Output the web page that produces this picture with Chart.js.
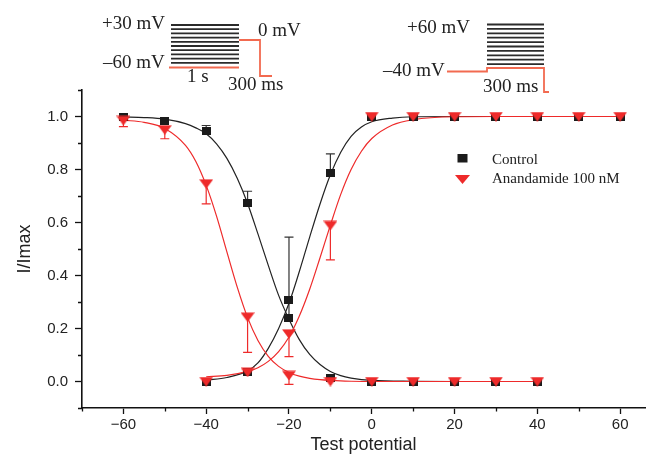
<!DOCTYPE html>
<html>
<head>
<meta charset="utf-8">
<script src="https://cdn.jsdelivr.net/npm/chart.js@4.4.0/dist/chart.umd.min.js"></script>
<style>
  body { margin: 0; background: #fff; }
  #wrap { position: relative; width: 650px; height: 456px; }
  #chart { position: absolute; left: 0; top: 0; }
  #overlay { position: absolute; left: 0; top: 0; }
  #overlay text { font-family: "Liberation Serif", serif; fill: #222; }
</style>
</head>
<body>
<div id="wrap">
  <canvas id="chart" width="650" height="456"></canvas>
  <svg id="overlay" width="650" height="456">
    <!-- left protocol: inactivation -->
    <g stroke="#2b2b2b" stroke-width="1.8">
      <line x1="171" y1="25" x2="239" y2="25"/>
      <line x1="171" y1="29.2" x2="239" y2="29.2"/>
      <line x1="171" y1="33.4" x2="239" y2="33.4"/>
      <line x1="171" y1="37.6" x2="239" y2="37.6"/>
      <line x1="171" y1="41.8" x2="239" y2="41.8"/>
      <line x1="171" y1="46" x2="239" y2="46"/>
      <line x1="171" y1="50.2" x2="239" y2="50.2"/>
      <line x1="171" y1="54.4" x2="239" y2="54.4"/>
      <line x1="171" y1="58.6" x2="239" y2="58.6"/>
      <line x1="171" y1="62.8" x2="239" y2="62.8"/>
    </g>
    <g stroke="#f26a50" stroke-width="1.8" fill="none">
      <polyline points="169,67.5 239,67.5"/>
      <polyline points="239,40 260,40 260,76 272,76"/>
    </g>
    <text x="102" y="29" font-size="19">+30 mV</text>
    <text x="103" y="68" font-size="19">–60 mV</text>
    <text x="258" y="36" font-size="19">0 mV</text>
    <text x="187" y="82" font-size="19">1 s</text>
    <text x="228" y="90" font-size="19">300 ms</text>

    <!-- right protocol: activation -->
    <g stroke="#2b2b2b" stroke-width="1.8">
      <line x1="487" y1="24.5" x2="544" y2="24.5"/>
      <line x1="487" y1="28.9" x2="544" y2="28.9"/>
      <line x1="487" y1="33.3" x2="544" y2="33.3"/>
      <line x1="487" y1="37.7" x2="544" y2="37.7"/>
      <line x1="487" y1="42.1" x2="544" y2="42.1"/>
      <line x1="487" y1="46.5" x2="544" y2="46.5"/>
      <line x1="487" y1="50.9" x2="544" y2="50.9"/>
      <line x1="487" y1="55.3" x2="544" y2="55.3"/>
      <line x1="487" y1="59.7" x2="544" y2="59.7"/>
      <line x1="487" y1="64.1" x2="544" y2="64.1"/>
    </g>
    <g stroke="#f26a50" stroke-width="1.8" fill="none">
      <polyline points="447,71.5 487,71.5 487,68 544,68 544,92 549,92"/>
    </g>
    <text x="407" y="33" font-size="19">+60 mV</text>
    <text x="383" y="76" font-size="19">–40 mV</text>
    <text x="483" y="92" font-size="19">300 ms</text>

    <!-- legend -->
    <rect x="457.5" y="154" width="10" height="8.5" fill="#1b1b1b"/>
    <polygon points="455,175 470,175 462.5,184" fill="#ee2a2a"/>
    <text x="492" y="164" font-size="15">Control</text>
    <text x="492" y="183" font-size="15">Anandamide 100 nM</text>
  </svg>
</div>
<script>
// measured points (test potential, mV)
const actPotentials = [-40, -30, -20, -10, 0, 10, 20, 30, 40, 50, 60];
const inactPotentials = [-60, -50, -40, -30, -20, -10, 0, 10, 20, 30, 40];

const controlAct = [0.0, 0.035, 0.309, 0.786, 1.0, 1.0, 1.0, 1.0, 1.0, 1.0, 1.0];
const controlActErr = [0, 0, 0, 0.073, 0, 0, 0, 0, 0, 0, 0];
const controlInact = [0.997, 0.982, 0.944, 0.673, 0.24, 0.012, 0.0, 0.0, 0.0, 0.0, 0.0];
const controlInactErr = [0, 0, 0.022, 0.045, 0.305, 0, 0, 0, 0, 0, 0];

const aeaAct = [0.0, 0.035, 0.18, 0.589, 1.0, 1.0, 1.0, 1.0, 1.0, 1.0, 1.0];
const aeaActErr = [0, 0, -0.086, -0.13, 0, 0, 0, 0, 0, 0, 0];
const aeaInact = [0.985, 0.95, 0.746, 0.243, 0.023, 0.0, 0.0, 0.0, 0.0, 0.0, 0.0];
const aeaInactErr = [-0.023, -0.034, -0.076, -0.133, -0.034, 0, 0, 0, 0, 0, 0];

// fitted curves
const fitActV = [-40, -35, -30, -27.5, -25, -22.5, -20, -17.5, -15, -12.5, -10, -7.5, -5, -2.5, 0, 5, 10, 20, 30, 40, 50, 60];
const controlActFit = [0.005, 0.015, 0.04, 0.07, 0.125, 0.2, 0.295, 0.415, 0.545, 0.67, 0.78, 0.865, 0.925, 0.96, 0.98, 0.994, 0.999, 1.0, 1.0, 1.0, 1.0, 1.0];
const aeaActFit = [0.018, 0.023, 0.038, 0.052, 0.076, 0.113, 0.168, 0.247, 0.348, 0.467, 0.59, 0.706, 0.8, 0.869, 0.917, 0.968, 0.988, 0.999, 1.0, 1.0, 1.0, 1.0];

const fitInactV = [-60, -55, -50, -45, -42.5, -40, -37.5, -35, -32.5, -30, -27.5, -25, -22.5, -20, -17.5, -15, -12.5, -10, -7.5, -5, 0, 10, 20, 30, 40];
const controlInactFit = [0.998, 0.996, 0.99, 0.973, 0.957, 0.935, 0.897, 0.842, 0.767, 0.672, 0.557, 0.438, 0.325, 0.235, 0.158, 0.102, 0.064, 0.038, 0.022, 0.013, 0.004, 0.001, 0.0, 0.0, 0.0];
const aeaInactFit = [0.986, 0.978, 0.955, 0.891, 0.83, 0.74, 0.624, 0.489, 0.356, 0.241, 0.155, 0.095, 0.057, 0.034, 0.02, 0.012, 0.007, 0.004, 0.002, 0.001, 0.0, 0.0, 0.0, 0.0, 0.0];

const xTicksLabelled = [-60, -40, -20, 0, 20, 40, 60];
const yTicksLabelled = [0.0, 0.2, 0.4, 0.6, 0.8, 1.0];

const BLACK = '#1b1b1b';
const RED = '#ee2a2a';

function pts(xs, ys) {
  return xs.map((x, i) => ({ x: x, y: ys[i] }));
}

function marker(w, h, draw) {
  const c = document.createElement('canvas');
  c.width = w; c.height = h;
  draw(c.getContext('2d'));
  return c;
}
const squareMark = marker(9, 8, g => { g.fillStyle = BLACK; g.fillRect(0, 0, 9, 8); });
const triMark = marker(14, 10, g => {
  g.fillStyle = RED;
  g.beginPath(); g.moveTo(0, 0.5); g.lineTo(14, 0.5); g.lineTo(7, 10); g.closePath(); g.fill();
});

// error bars: vertical line from the point to point + err, with a cap
const errorBars = {
  id: 'errorBars',
  beforeDatasetsDraw(chart) {
    const ctx = chart.ctx, sx = chart.scales.x, sy = chart.scales.y;
    chart.data.datasets.forEach(ds => {
      if (!ds.errors) return;
      ctx.save();
      ctx.strokeStyle = ds.errColor;
      ctx.lineWidth = 1.2;
      ds.data.forEach((p, i) => {
        const e = ds.errors[i];
        if (!e) return;
        const px = sx.getPixelForValue(p.x);
        const y0 = sy.getPixelForValue(p.y);
        const y1 = sy.getPixelForValue(p.y + e);
        ctx.beginPath();
        ctx.moveTo(px, y0); ctx.lineTo(px, y1);
        ctx.moveTo(px - 4.5, y1); ctx.lineTo(px + 4.5, y1);
        ctx.stroke();
      });
      ctx.restore();
    });
  }
};

// short minor ticks between the labelled ones
const minorTicks = {
  id: 'minorTicks',
  afterDraw(chart) {
    const ctx = chart.ctx, sx = chart.scales.x, sy = chart.scales.y;
    const area = chart.chartArea;
    ctx.save();
    ctx.strokeStyle = '#111';
    ctx.lineWidth = 1.3;
    ctx.beginPath();
    for (let v = -70; v <= 66; v += 10) {
      if (xTicksLabelled.includes(v)) continue;
      const px = Math.round(sx.getPixelForValue(v)) + 0.5;
      ctx.moveTo(px, area.bottom); ctx.lineTo(px, area.bottom + 3.5);
    }
    for (let k = -1; k <= 11; k += 2) {
      const py = Math.round(sy.getPixelForValue(k / 10)) + 0.5;
      ctx.moveTo(area.left, py); ctx.lineTo(area.left - 4, py);
    }
    ctx.stroke();
    ctx.restore();
  }
};

const fmt = v => (v < 0 ? '\u2212' + Math.abs(v) : String(v));

new Chart(document.getElementById('chart'), {
  type: 'line',
  data: {
    datasets: [
      { label: 'Anandamide 100 nM', data: pts(actPotentials, aeaAct), errors: aeaActErr, errColor: RED,
        showLine: false, pointStyle: triMark, order: 0 },
      { label: 'Anandamide inact', data: pts(inactPotentials, aeaInact), errors: aeaInactErr, errColor: RED,
        showLine: false, pointStyle: triMark, order: 0 },
      { label: 'Control', data: pts(actPotentials, controlAct), errors: controlActErr, errColor: '#333',
        showLine: false, pointStyle: squareMark, order: 1 },
      { label: 'Control inact', data: pts(inactPotentials, controlInact), errors: controlInactErr, errColor: '#333',
        showLine: false, pointStyle: squareMark, order: 1 },
      { data: pts(fitActV, aeaActFit), borderColor: RED, borderWidth: 1.2, pointRadius: 0,
        cubicInterpolationMode: 'monotone', order: 2 },
      { data: pts(fitInactV, aeaInactFit), borderColor: RED, borderWidth: 1.2, pointRadius: 0,
        cubicInterpolationMode: 'monotone', order: 2 },
      { data: pts(fitActV, controlActFit), borderColor: '#222', borderWidth: 1.2, pointRadius: 0,
        cubicInterpolationMode: 'monotone', order: 3 },
      { data: pts(fitInactV, controlInactFit), borderColor: '#222', borderWidth: 1.2, pointRadius: 0,
        cubicInterpolationMode: 'monotone', order: 3 }
    ]
  },
  options: {
    responsive: false,
    animation: false,
    devicePixelRatio: 1,
    layout: { padding: { top: 90, right: 5, left: 0, bottom: 0 } },
    plugins: { legend: { display: false }, tooltip: { enabled: false } },
    scales: {
      x: {
        type: 'linear', min: -70, max: 66,
        border: { color: '#111', width: 1.6 },
        grid: {
          drawOnChartArea: false, tickLength: 6, tickWidth: 1.3,
          tickColor: c => (c.tick && xTicksLabelled.includes(c.tick.value) ? '#111' : 'rgba(0,0,0,0)')
        },
        ticks: {
          stepSize: 10, includeBounds: false, autoSkip: false, maxRotation: 0, padding: 2,
          color: '#222', font: { family: 'Liberation Sans', size: 15 },
          callback: v => (xTicksLabelled.includes(v) ? fmt(v) : '')
        },
        title: { display: true, text: 'Test potential', color: '#222',
          font: { family: 'Liberation Sans', size: 18 }, padding: { top: 0, bottom: 0 } },
        afterFit: s => { s.height = 48; }
      },
      y: {
        type: 'linear', min: -0.1, max: 1.1,
        border: { color: '#111', width: 1.6 },
        grid: {
          drawOnChartArea: false, tickLength: 7, tickWidth: 1.3,
          tickColor: c => (c.tick && Math.round(c.tick.value * 10) % 2 === 0 ? '#111' : 'rgba(0,0,0,0)')
        },
        ticks: {
          stepSize: 0.1, includeBounds: false, autoSkip: false, padding: 7,
          color: '#222', font: { family: 'Liberation Sans', size: 15 },
          callback: v => (Math.round(v * 10) % 2 === 0 ? v.toFixed(1) : '')
        },
        title: { display: true, text: 'I/Imax', color: '#222',
          font: { family: 'Liberation Sans', size: 18 }, padding: { top: 14, bottom: 0 } },
        afterFit: s => { s.width = 82; }
      }
    }
  },
  plugins: [errorBars, minorTicks]
});
</script>
</body>
</html>
